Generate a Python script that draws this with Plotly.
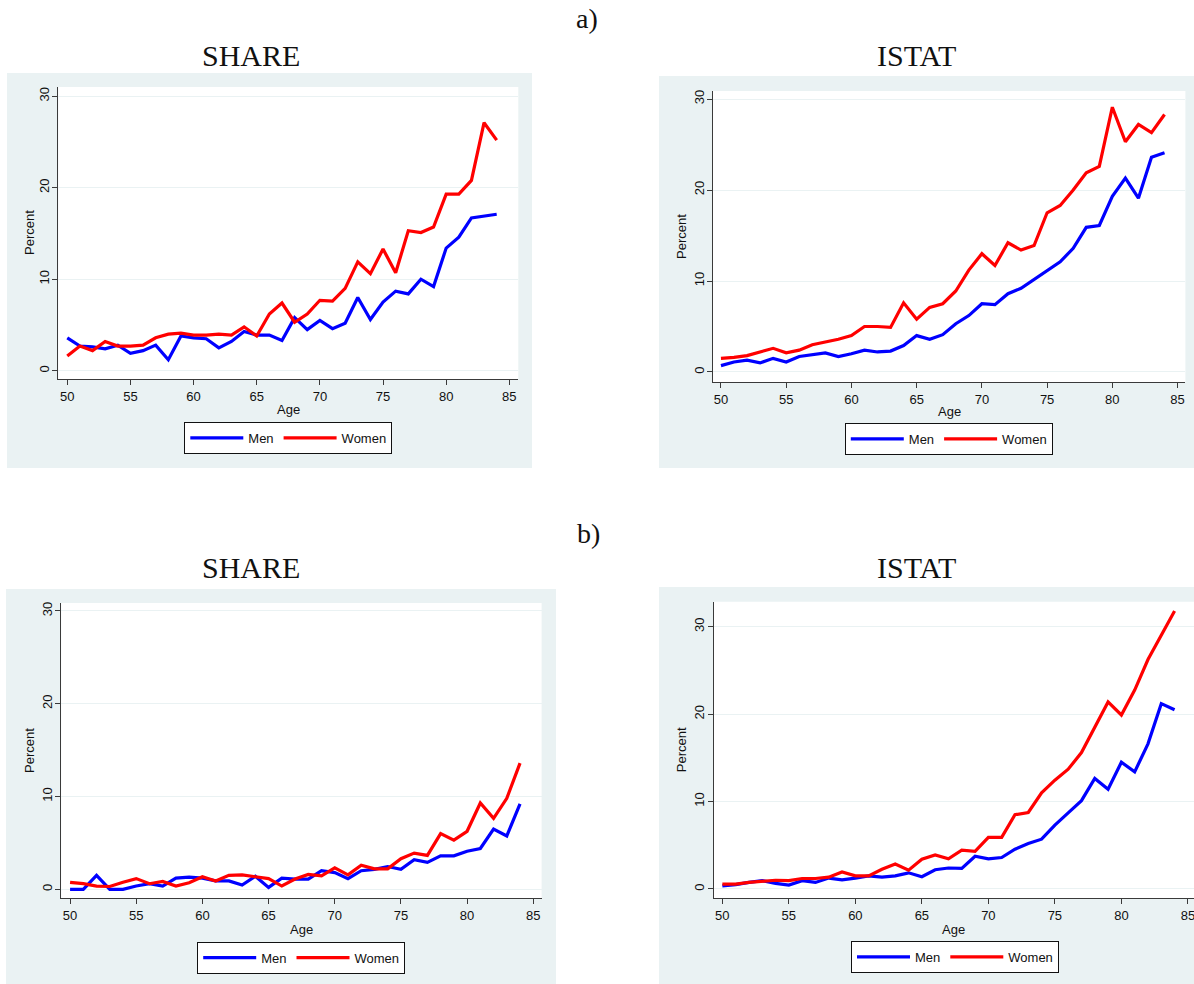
import plotly.graph_objects as go

# ---------------- data ----------------
ages = list(range(50, 85))
x_ticks = [50, 55, 60, 65, 70, 75, 80, 85]
y_ticks = [0, 10, 20, 30]

share_a_men = [3.6, 2.7, 2.6, 2.4, 2.8, 1.9, 2.2, 2.8, 1.2, 3.8,
               3.6, 3.5, 2.5, 3.2, 4.3, 3.9, 3.9, 3.3, 5.8, 4.5,
               5.5, 4.6, 5.2, 8.0, 5.6, 7.5, 8.7, 8.4, 10.0, 9.2,
               13.4, 14.6, 16.7, 16.9, 17.1]
share_a_women = [1.6, 2.7, 2.2, 3.2, 2.7, 2.7, 2.8, 3.6, 4.0, 4.1,
                 3.9, 3.9, 4.0, 3.9, 4.8, 3.8, 6.2, 7.4, 5.3, 6.2,
                 7.7, 7.6, 9.0, 11.9, 10.6, 13.3, 10.7, 15.3, 15.1, 15.7,
                 19.3, 19.3, 20.8, 27.1, 25.2]
istat_a_men = [0.7, 1.1, 1.3, 1.0, 1.5, 1.1, 1.7, 1.9, 2.1, 1.7,
               2.0, 2.4, 2.2, 2.3, 2.9, 4.0, 3.6, 4.1, 5.3, 6.2,
               7.5, 7.4, 8.6, 9.2, 10.2, 11.1, 12.1, 13.6, 15.9, 16.1,
               19.3, 21.3, 19.1, 23.6, 24.1]
istat_a_women = [1.5, 1.6, 1.8, 2.2, 2.6, 2.1, 2.4, 3.0, 3.3, 3.6,
                 4.0, 5.0, 5.0, 4.9, 7.6, 5.8, 7.1, 7.5, 8.9, 11.2,
                 13.0, 11.7, 14.2, 13.4, 13.9, 17.5, 18.3, 20.0, 21.9, 22.6,
                 29.1, 25.3, 27.2, 26.3, 28.3]
share_b_men = [0.0, 0.0, 1.5, 0.0, 0.0, 0.35, 0.6, 0.35, 1.2, 1.3,
               1.2, 0.9, 0.9, 0.45, 1.4, 0.2, 1.2, 1.1, 1.1, 2.0,
               1.8, 1.15, 2.0, 2.15, 2.45, 2.15, 3.2, 2.9, 3.6, 3.6,
               4.1, 4.4, 6.5, 5.75, 9.2]
share_b_women = [0.75, 0.6, 0.35, 0.3, 0.75, 1.15, 0.6, 0.85, 0.35, 0.7,
                 1.35, 0.9, 1.5, 1.55, 1.35, 1.15, 0.35, 1.1, 1.6, 1.45,
                 2.3, 1.55, 2.6, 2.2, 2.2, 3.3, 3.9, 3.65, 6.0, 5.3,
                 6.25, 9.3, 7.65, 9.8, 13.6]
istat_b_men = [0.35, 0.5, 0.75, 0.95, 0.65, 0.45, 0.95, 0.75, 1.25, 1.05,
               1.25, 1.5, 1.35, 1.5, 1.85, 1.4, 2.2, 2.4, 2.35, 3.75,
               3.45, 3.6, 4.55, 5.2, 5.7, 7.3, 8.7, 10.1, 12.65, 11.4,
               14.5, 13.4, 16.6, 21.2, 20.5]
istat_b_women = [0.55, 0.55, 0.75, 0.9, 1.0, 0.95, 1.2, 1.2, 1.35, 1.95,
                 1.5, 1.5, 2.25, 2.85, 2.15, 3.4, 3.9, 3.45, 4.45, 4.3,
                 5.9, 5.9, 8.5, 8.75, 11.0, 12.45, 13.7, 15.6, 18.6, 21.4,
                 19.9, 22.75, 26.25, 28.95, 31.8]

section_labels = ["a)", "b)"]
panel_titles = ["SHARE", "ISTAT", "SHARE", "ISTAT"]
series_names = ["Men", "Women"]
x_title = "Age"
y_title = "Percent"

# ---------------- layout helpers ----------------
W, H = 1194, 984
def fx(x):
    return x / W
def fy(y):
    return 1 - y / H

BG = "#eaf2f3"
BLUE = "#0000ff"
RED = "#ff0000"
AXC = "#3a3a3a"
TXT = "#111111"
SANS = "Liberation Sans, Arial, sans-serif"
SERIF = "Liberation Serif, Times New Roman, serif"
FS = 13

panels = [
    dict(men=share_a_men, women=share_a_women,
         plot=(58.3, 87, 518.3, 379), xr=[49.29, 85.71], yr=[-0.9, 31.0],
         bg=(7, 73, 532, 468), leg=(288.3, 422), title=(251, 56),
         xt=409.3, ytx=29),
    dict(men=istat_a_men, women=istat_a_women,
         plot=(713, 91, 1185.4, 382), xr=[49.39, 85.6], yr=[-1.1, 30.88],
         bg=(659, 76, 1194, 468), leg=(948.8, 423), title=(916, 56),
         xt=411.7, ytx=681.4),
    dict(men=share_b_men, women=share_b_women,
         plot=(61.2, 603, 541.6, 898), xr=[49.33, 85.63], yr=[-0.94, 30.86],
         bg=(6, 589, 556, 984), leg=(301.2, 941.7), title=(251, 567),
         xt=929, ytx=29.5),
    dict(men=istat_b_men, women=istat_b_women,
         plot=(713.7, 601.7, 1194, 898), xr=[49.35, 85.46], yr=[-1.03, 32.86],
         bg=(659, 587, 1194, 984), leg=(955, 941), title=(916, 567),
         xt=929.3, ytx=681.4),
]

fig = go.Figure()
layout = dict(
    width=W, height=H,
    margin=dict(l=0, r=0, t=0, b=0),
    paper_bgcolor="white",
    plot_bgcolor="white",
    showlegend=True,
    shapes=[], annotations=[],
)

for i, p in enumerate(panels):
    k = "" if i == 0 else str(i + 1)
    xa, ya = "x" + k, "y" + k
    lg = "legend" + k
    for name, vals, col in ((series_names[0], p["men"], BLUE),
                            (series_names[1], p["women"], RED)):
        fig.add_trace(go.Scatter(
            x=ages, y=vals, mode="lines", name=name,
            line=dict(color=col, width=3.2),
            xaxis=xa, yaxis=ya, legend=lg, showlegend=True,
        ))
    x0, y0, x1, y1 = p["plot"]
    layout["xaxis" + k] = dict(
        domain=[fx(x0), fx(x1)], range=p["xr"], anchor=ya,
        tickvals=x_ticks, ticks="outside", ticklen=5, tickwidth=1,
        tickcolor=AXC, showline=True, linecolor=AXC, linewidth=1.3,
        showgrid=False, zeroline=False, ticklabeloverflow="allow",
        tickfont=dict(family=SANS, size=FS, color=TXT),
    )
    layout["yaxis" + k] = dict(
        domain=[fy(y1), fy(y0)], range=p["yr"], anchor=xa,
        tickvals=y_ticks, ticks="outside", ticklen=5, tickwidth=1,
        tickcolor=AXC, showline=True, linecolor=AXC, linewidth=1.3,
        showgrid=True, gridcolor=BG, gridwidth=1.2, zeroline=False,
        tickangle=-90, ticklabelstandoff=-2,
        tickfont=dict(family=SANS, size=FS, color=TXT),
    )
    # axis titles
    layout["annotations"].append(dict(
        text=x_title, x=fx((x0 + x1) / 2), y=fy(p["xt"]),
        xref="paper", yref="paper", xanchor="center", yanchor="middle",
        showarrow=False, font=dict(family=SANS, size=FS, color=TXT)))
    layout["annotations"].append(dict(
        text=y_title, x=fx(p["ytx"]), y=fy((y0 + y1) / 2),
        xref="paper", yref="paper", xanchor="center", yanchor="middle",
        textangle=-90, showarrow=False,
        font=dict(family=SANS, size=FS, color=TXT)))
    lx, ly = p["leg"]
    layout[lg] = dict(
        x=fx(lx), y=fy(ly), xanchor="center", yanchor="top",
        orientation="h", bgcolor="white", bordercolor=TXT, borderwidth=1,
        font=dict(family=SANS, size=FS, color=TXT),
        itemwidth=53, traceorder="normal",
    )
    bx0, by0, bx1, by1 = p["bg"]
    layout["shapes"].append(dict(
        type="rect", xref="paper", yref="paper", layer="below",
        x0=fx(bx0), x1=fx(bx1), y0=fy(by1), y1=fy(by0),
        fillcolor=BG, line=dict(width=0)))
    layout["shapes"].append(dict(
        type="rect", xref="paper", yref="paper", layer="below",
        x0=fx(x0), x1=fx(x1), y0=fy(y1), y1=fy(y0),
        fillcolor="white", line=dict(width=0)))
    tx, ty = p["title"]
    layout["annotations"].append(dict(
        text=panel_titles[i], x=fx(tx), y=fy(ty), xref="paper", yref="paper",
        xanchor="center", yanchor="middle", showarrow=False,
        font=dict(family=SERIF, size=30, color=TXT)))

for lab, (sx, sy) in zip(section_labels, [(586.5, 19), (588.7, 533)]):
    layout["annotations"].append(dict(
        text=lab, x=fx(sx), y=fy(sy), xref="paper", yref="paper",
        xanchor="center", yanchor="middle", showarrow=False,
        font=dict(family=SERIF, size=28, color=TXT)))

fig.update_layout(**layout)
fig.write_html(
    "out.html",
    config={"displayModeBar": False},
    post_script="document.body.style.margin='0px';"
                "document.body.style.overflow='hidden';",
)
